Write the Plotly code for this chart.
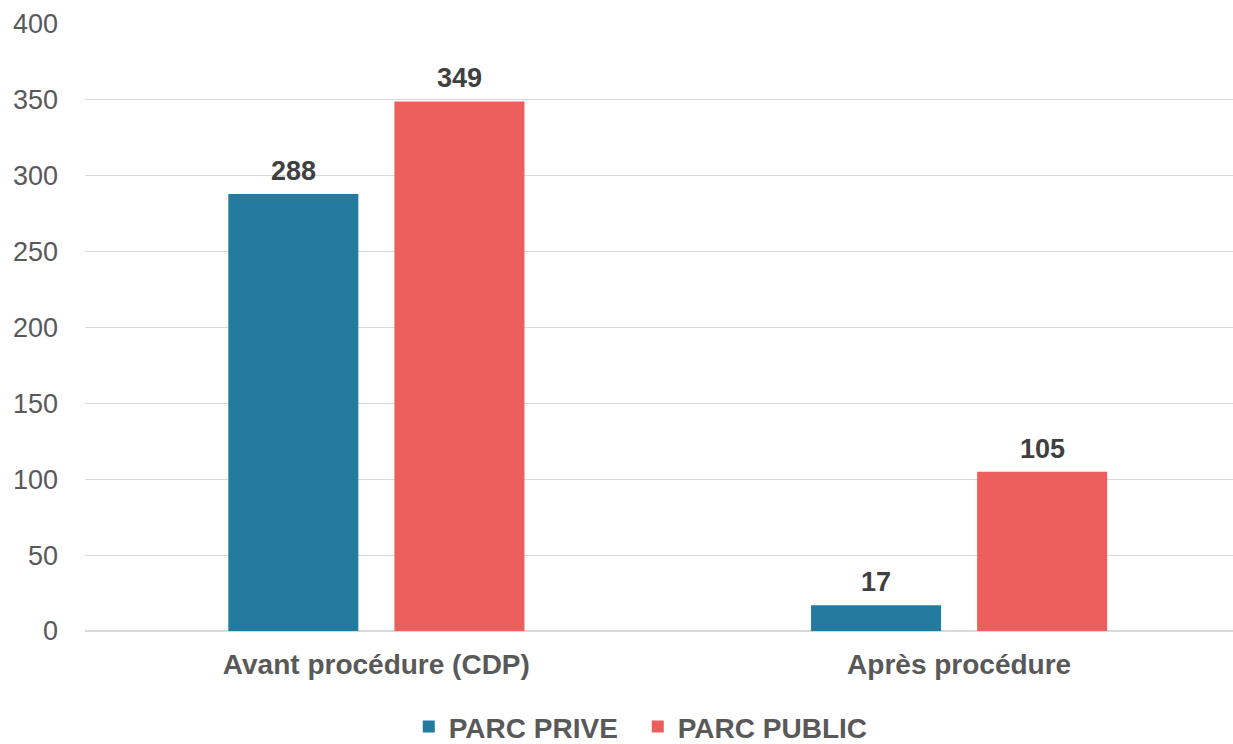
import plotly.graph_objects as go

categories = ["Avant procédure (CDP)", "Après procédure"]
parc_prive = [288, 17]
parc_public = [349, 105]
series_names = ["PARC PRIVE", "PARC PUBLIC"]
colors = ["#247BA0", "#EC5F5D"]
y_ticks = [0, 50, 100, 150, 200, 250, 300, 350, 400]

W, H = 1233, 744
L, T, B = 84.5, 24, 113
bargap = 0.43
bargroupgap = 0.217
FONT = "Liberation Sans, Arial"

fig = go.Figure()
for name, vals, col in zip(series_names, [parc_prive, parc_public], colors):
    fig.add_trace(go.Bar(
        name=name, x=categories, y=vals, marker=dict(color=col, line=dict(width=0)),
    ))

slot = (1 - bargap) / 2
annotations = []
for si, vals in enumerate([parc_prive, parc_public]):
    off = (si - 0.5) * slot
    for ci, v in enumerate(vals):
        annotations.append(dict(
            x=ci + off, y=v, xref="x", yref="y", text=f"<b>{v}</b>",
            showarrow=False, yanchor="bottom", yshift=6,
            font=dict(family=FONT, size=27, color="#404040"),
        ))

fig.update_layout(
    width=W, height=H,
    margin=dict(l=L, r=0, t=T, b=B, pad=0, autoexpand=False),
    paper_bgcolor="white", plot_bgcolor="white",
    barmode="group", bargap=bargap, bargroupgap=bargroupgap,
    font=dict(family=FONT, size=27, color="#595959"),
    annotations=annotations,
    showlegend=True,
    legend=dict(
        orientation="h", x=0.4815, xanchor="center", y=-0.158, yanchor="middle",
        font=dict(family=FONT, size=28, color="#595959", weight="bold"),
        itemwidth=30, traceorder="normal", entrywidth=184,
    ),
    xaxis=dict(
        type="category", range=[-0.5, (W - L) / 583 - 0.5],
        showgrid=False, showline=False, ticks="", automargin=False,
        tickfont=dict(family=FONT, size=28, color="#595959", weight="bold"),
        ticklabelstandoff=14,
    ),
    yaxis=dict(
        range=[0, 400], tickvals=y_ticks, showgrid=True, gridcolor="#D9D9D9", gridwidth=1,
        zeroline=True, zerolinecolor="#D9D9D9", zerolinewidth=2,
        showline=False, ticks="", automargin=False,
        tickfont=dict(family=FONT, size=27, color="#595959"),
        ticklabelstandoff=26,
    ),
)

fig.write_html(
    "out.html",
    config={"displayModeBar": False},
    post_script="document.body.style.margin='0';document.body.style.overflow='hidden';",
)
